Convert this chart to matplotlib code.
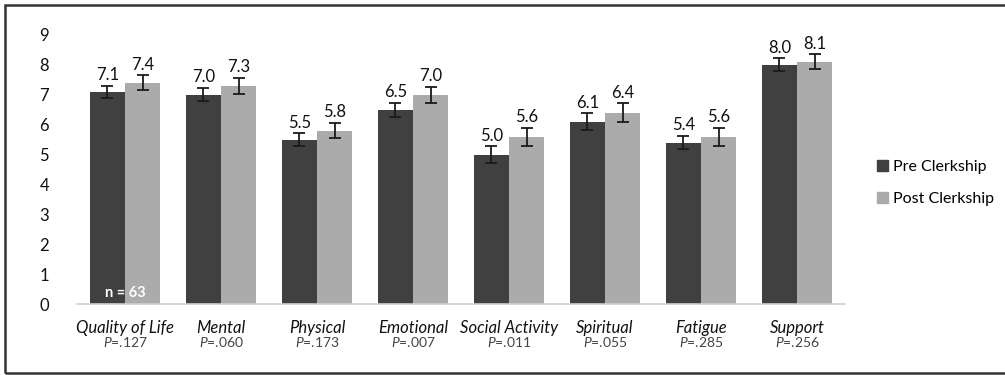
import matplotlib.pyplot as plt
import numpy as np
from matplotlib.patches import Rectangle, Patch

plt.rcParams["font.family"] = ["Lato", "DejaVu Sans"]
plt.rcParams["mathtext.fontset"] = "custom"
plt.rcParams["mathtext.it"] = "Lato:italic"
plt.rcParams["mathtext.rm"] = "Lato"

categories = ["Quality of Life", "Mental", "Physical", "Emotional",
              "Social Activity", "Spiritual", "Fatigue", "Support"]
p_values = [".127", ".060", ".173", ".007", ".011", ".055", ".285", ".256"]
pre = [7.1, 7.0, 5.5, 6.5, 5.0, 6.1, 5.4, 8.0]
post = [7.4, 7.3, 5.8, 7.0, 5.6, 6.4, 5.6, 8.1]
pre_err = [0.21, 0.22, 0.21, 0.23, 0.27, 0.28, 0.23, 0.22]
post_err = [0.25, 0.27, 0.25, 0.27, 0.30, 0.31, 0.30, 0.25]

dark = "#404040"
light = "#ababab"

fig = plt.figure(figsize=(10.05, 3.75), dpi=100)
ax = fig.add_axes([0.0766, 0.1893, 0.7642, 0.7174])

x = np.arange(len(categories))
w = 0.365
err_kw = dict(ecolor="#1a1a1a", elinewidth=1.3, capsize=4, capthick=1.3)
ax.bar(x - w / 2, pre, w, color=dark, yerr=pre_err, error_kw=err_kw, label="Pre Clerkship")
ax.bar(x + w / 2, post, w, color=light, yerr=post_err, error_kw=err_kw, label="Post Clerkship")

# value labels above the error bars
for xi, v, e in zip(x - w / 2, pre, pre_err):
    ax.annotate(f"{v:.1f}", (xi, v + e), xytext=(0, 2), textcoords="offset points",
                ha="center", va="bottom", fontsize=12, color="#111111")
for xi, v, e in zip(x + w / 2, post, post_err):
    ax.annotate(f"{v:.1f}", (xi, v + e), xytext=(0, 2), textcoords="offset points",
                ha="center", va="bottom", fontsize=12, color="#111111")

ax.set_xlim(-0.5, len(categories) - 0.5)
ax.set_ylim(0, 9)
ax.set_yticks(range(10))
ax.tick_params(axis="y", length=0, pad=20, labelsize=12, labelcolor="#111111")
ax.set_xticks([])
for s in ["top", "right", "left"]:
    ax.spines[s].set_visible(False)
ax.spines["bottom"].set_color("#d0d0d0")
ax.spines["bottom"].set_linewidth(1.2)

# category names and p-values under each group
for xi, name, p in zip(x, categories, p_values):
    ax.text(xi, -0.8, name, ha="center", va="center", fontsize=12,
            style="italic", color="#111111", clip_on=False)
    ax.text(xi, -1.27, r"$P$=" + p, ha="center", va="center", fontsize=10,
            color="#444444", clip_on=False)

ax.text(0, 0.37, "n = 63", ha="center", va="center", fontsize=10.5,
        fontweight="bold", color="white")

handles = [Patch(color=dark), Patch(color=light)]
fig.legend(handles, ["Pre Clerkship", "Post Clerkship"], loc="center left",
           bbox_to_anchor=(0.858, 0.512), frameon=False, fontsize=11.5,
           handlelength=0.7, handleheight=0.7, handletextpad=0.35,
           labelspacing=1.1)

fig.add_artist(Rectangle((0.005, 0.005), 1.2, 0.982, transform=fig.transFigure,
                         fill=False, edgecolor="#333333", linewidth=1.8))

fig.savefig("out.png", dpi=100)
